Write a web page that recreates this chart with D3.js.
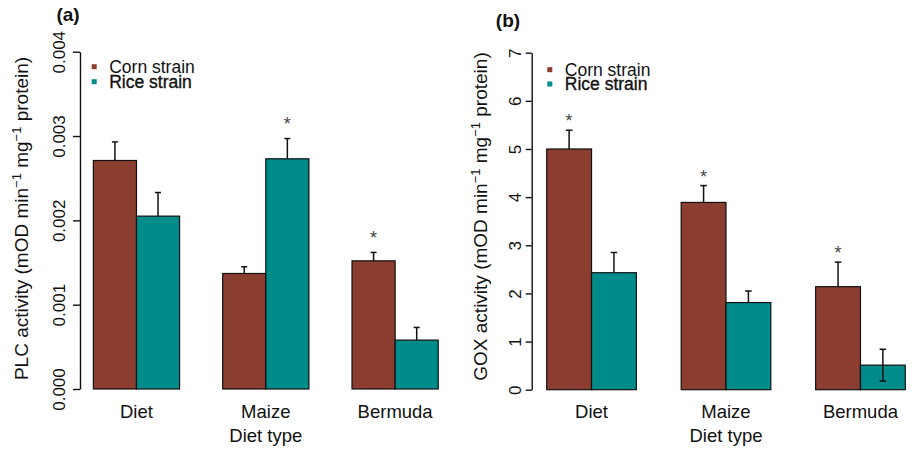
<!DOCTYPE html>
<html>
<head>
<meta charset="utf-8">
<script src="https://cdn.jsdelivr.net/npm/d3@7"></script>
<style>
  html, body { margin: 0; padding: 0; background: #fff; }
  svg { display: block; }
  text { font-family: "Liberation Sans", Arial, Helvetica, sans-serif; }
</style>
</head>
<body>
<svg id="chart" width="914" height="449"></svg>
<script>
// Diet types and strains
const categories = ["Diet", "Maize", "Bermuda"];
const strains = ["Corn strain", "Rice strain"];
const strainColors = ["#8B3E2F", "#008B8B"];

// (a) PLC activity: means and standard errors
const plcCorn = [0.00271, 0.00137, 0.00152];
const plcRice = [0.00205, 0.00273, 0.00058];
const plcCornSE = [0.00022, 0.00008, 0.00010];
const plcRiceSE = [0.00028, 0.00024, 0.00015];
const plcCornSig = [false, false, true];
const plcRiceSig = [false, true, false];
const plcTicks = [0, 0.001, 0.002, 0.003, 0.004];
const plcTickLabels = ["0.000", "0.001", "0.002", "0.003", "0.004"];

// (b) GOX activity: means and standard errors
const goxCorn = [5.00, 3.89, 2.14];
const goxRice = [2.43, 1.81, 0.51];
const goxCornSE = [0.39, 0.35, 0.51];
const goxRiceSE = [0.42, 0.24, 0.33];
const goxCornSig = [true, true, true];
const goxRiceSig = [false, false, false];
const goxRiceLowerBar = [false, false, true];
const goxTicks = [0, 1, 2, 3, 4, 5, 6, 7];
const goxTickLabels = ["0", "1", "2", "3", "4", "5", "6", "7"];

const svg = d3.select("#chart");
const FS_LABEL = 18.5;   // category names, "Diet type"
const FS_TICK = 17;      // y tick labels
const FS_TITLE = 19;     // y axis titles
const FS_SUP = 13;       // superscripts in titles
const FS_LEGEND = 17.5;

function panel(cfg) {
  const g = svg.append("g");

  const x0 = d3.scaleBand().domain(categories)
    .range(cfg.xRange).paddingInner(1 / 3).paddingOuter(1 / 6);
  const x1 = d3.scaleBand().domain(strains).range([0, x0.bandwidth()]).padding(0);
  const y = d3.scaleLinear().domain(cfg.yDomain).range(cfg.yRange);

  const rows = [];
  categories.forEach((c, i) => {
    cfg.series.forEach((s, j) => {
      rows.push({
        cat: c, strain: strains[j], color: strainColors[j],
        v: s.values[i], se: s.se[i], sig: s.sig[i],
        lower: s.lower ? s.lower[i] : false
      });
    });
  });

  // bars
  g.selectAll("rect.bar").data(rows).join("rect")
    .attr("class", "bar")
    .attr("x", d => x0(d.cat) + x1(d.strain))
    .attr("width", x1.bandwidth())
    .attr("y", d => y(d.v))
    .attr("height", d => y(0) - y(d.v))
    .attr("fill", d => d.color)
    .attr("stroke", "#111")
    .attr("stroke-width", 1.2);

  // error bars (upper whisker, lower where shown)
  const cap = cfg.cap;
  const eb = g.selectAll("g.err").data(rows).join("g").attr("class", "err")
    .attr("stroke", "#111").attr("stroke-width", 1.5);
  eb.each(function(d) {
    const cx = x0(d.cat) + x1(d.strain) + x1.bandwidth() / 2;
    const e = d3.select(this);
    const yTop = y(d.v + d.se);
    e.append("line").attr("x1", cx).attr("x2", cx).attr("y1", y(d.v)).attr("y2", yTop);
    e.append("line").attr("x1", cx - cap).attr("x2", cx + cap).attr("y1", yTop).attr("y2", yTop);
    if (d.lower) {
      const yBot = y(d.v - d.se);
      e.append("line").attr("x1", cx).attr("x2", cx).attr("y1", y(d.v)).attr("y2", yBot);
      e.append("line").attr("x1", cx - cap).attr("x2", cx + cap).attr("y1", yBot).attr("y2", yBot);
    }
  });

  // significance stars
  const starFs = 18;
  g.selectAll("text.star").data(rows.filter(d => d.sig)).join("text")
    .attr("class", "star")
    .attr("x", d => x0(d.cat) + x1(d.strain) + x1.bandwidth() / 2)
    .attr("y", d => y(d.v + d.se) - cfg.starGap + 0.57 * starFs)
    .attr("text-anchor", "middle")
    .attr("font-size", starFs)
    .attr("fill", "#444")
    .text("*");

  // y axis
  const ax = g.append("g")
    .attr("transform", `translate(${cfg.axisX},0)`)
    .call(d3.axisLeft(y).tickValues(cfg.ticks)
      .tickFormat((d, i) => cfg.tickLabels[i])
      .tickSize(cfg.tickLen).tickSizeOuter(0));
  ax.select(".domain").attr("stroke", "#111").attr("stroke-width", 1.4);
  ax.selectAll(".tick line").attr("stroke", "#111").attr("stroke-width", 1.4);
  ax.selectAll(".tick text")
    .attr("x", null).attr("dy", null)
    .attr("font-size", FS_TICK)
    .attr("fill", "#111")
    .attr("text-anchor", "middle")
    .attr("transform", `translate(${-cfg.labelOff},0) rotate(-90)`)
    .attr("y", 0);

  // y title with superscripts
  const t = g.append("text")
    .attr("transform", `translate(${cfg.titleX},${cfg.titleY}) rotate(-90)`)
    .attr("text-anchor", "middle")
    .attr("font-size", FS_TITLE)
    .attr("fill", "#111");
  const parts = [
    [cfg.yTitle + " (mOD min", false], ["\u22121", true],
    [" mg", false], ["\u22121", true], [" protein)", false]
  ];
  parts.forEach(([s, sup]) => {
    t.append("tspan")
      .attr("font-size", sup ? FS_SUP : FS_TITLE)
      .attr("baseline-shift", sup ? "7" : null)
      .text(s);
  });

  // category labels
  g.selectAll("text.cat").data(categories).join("text")
    .attr("class", "cat")
    .attr("x", d => x0(d) + x0.bandwidth() / 2)
    .attr("y", 417.7)
    .attr("text-anchor", "middle")
    .attr("font-size", FS_LABEL)
    .attr("fill", "#111")
    .text(d => d);
  g.append("text")
    .attr("x", x0("Maize") + x0.bandwidth() / 2)
    .attr("y", 442)
    .attr("text-anchor", "middle")
    .attr("font-size", FS_LABEL)
    .attr("fill", "#111")
    .text("Diet type");

  // legend
  const lg = g.append("g");
  strains.forEach((s, j) => {
    const by = cfg.legY[j];
    lg.append("rect")
      .attr("x", cfg.legX).attr("y", by - 8.5)
      .attr("width", 5).attr("height", 5)
      .attr("fill", strainColors[j]);
    lg.append("text")
      .attr("x", cfg.legX + 17.5).attr("y", by)
      .attr("font-size", FS_LEGEND)
      .attr("fill", "#111")
      .attr("stroke", j === 1 ? "#111" : "none")
      .attr("stroke-width", j === 1 ? 0.35 : 0)
      .text(s);
  });

  // panel tag
  g.append("text")
    .attr("x", cfg.tagX).attr("y", cfg.tagY)
    .attr("text-anchor", "middle")
    .attr("font-size", 19)
    .attr("font-weight", "bold")
    .attr("fill", "#111")
    .text(cfg.tag);
}

panel({
  tag: "(a)", tagX: 68, tagY: 21,
  xRange: [71.8, 459.8],
  yDomain: [0, 0.004], yRange: [389, 51.7],
  axisX: 80, tickLen: 7, labelOff: 15,
  ticks: plcTicks, tickLabels: plcTickLabels,
  yTitle: "PLC activity", titleX: 28.3, titleY: 218.5,
  series: [
    { values: plcCorn, se: plcCornSE, sig: plcCornSig },
    { values: plcRice, se: plcRiceSE, sig: plcRiceSig }
  ],
  cap: 3, starGap: 19,
  legX: 91.7, legY: [72.7, 87.7]
});

panel({
  tag: "(b)", tagX: 508, tagY: 27,
  xRange: [524.3, 927.7],
  yDomain: [0, 7], yRange: [389.7, 52.7],
  axisX: 531.7, tickLen: 6, labelOff: 10.5,
  ticks: goxTicks, tickLabels: goxTickLabels,
  yTitle: "GOX activity", titleX: 486.7, titleY: 216.5,
  series: [
    { values: goxCorn, se: goxCornSE, sig: goxCornSig },
    { values: goxRice, se: goxRiceSE, sig: goxRiceSig, lower: goxRiceLowerBar }
  ],
  cap: 3.3, starGap: 13,
  legX: 547.3, legY: [75.7, 90]
});
</script>
</body>
</html>
